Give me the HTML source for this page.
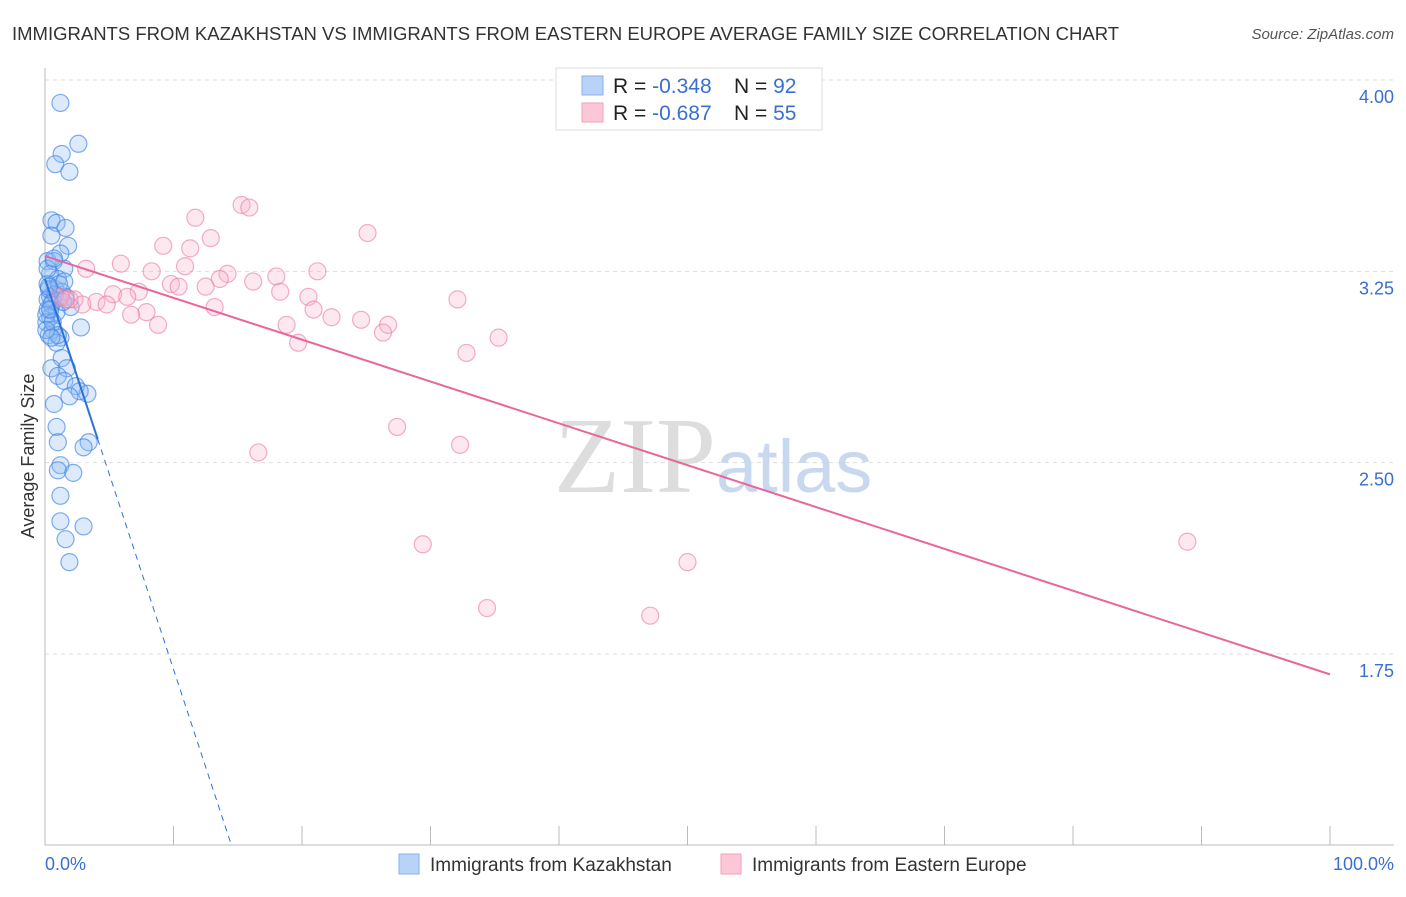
<!DOCTYPE html>
<html><head><meta charset="utf-8"><style>
body{margin:0;background:#fff;font-family:"Liberation Sans",sans-serif}
</style></head><body>
<svg width="1406" height="892" xmlns="http://www.w3.org/2000/svg" font-family="Liberation Sans, sans-serif">
<text x="12" y="40" font-size="18.5" fill="#333">IMMIGRANTS FROM KAZAKHSTAN VS IMMIGRANTS FROM EASTERN EUROPE AVERAGE FAMILY SIZE CORRELATION CHART</text>
<text x="1394" y="39" font-size="15" fill="#555" font-style="italic" text-anchor="end">Source: ZipAtlas.com</text>
<g id="grid"></g>
<text x="716" y="492" font-size="108" fill="#ddd" font-family="Liberation Serif, serif" text-anchor="end">ZIP</text>
<text x="716" y="492" font-size="74" fill="#c8d8ee">atlas</text>
<line x1="45" y1="68" x2="45" y2="845" stroke="#bbb"/>
<line x1="45" y1="845" x2="1394" y2="845" stroke="#bbb"/>
<g id="ticks"></g>
<g id="pts"></g>
<g id="lines"></g>
<text x="34" y="456" font-size="18" fill="#333" text-anchor="middle" transform="rotate(-90 34 456)">Average Family Size</text>
<text x="45" y="870" font-size="18" fill="#3a6fd0">0.0%</text>
<text x="1394" y="870" font-size="18" fill="#3a6fd0" text-anchor="end">100.0%</text>
<g>
<rect x="556" y="68" width="266" height="62" fill="#fff" stroke="#ddd"/>
<rect x="582" y="76" width="21" height="19" fill="#b8d3f7" stroke="#8ab0e8"/>
<rect x="582" y="103" width="21" height="19" fill="#fcc8d8" stroke="#f0a0b8"/>
<text x="613" y="93" font-size="21" fill="#222">R = <tspan fill="#3a6fd0">-0.348</tspan><tspan x="734">N = </tspan><tspan fill="#3a6fd0">92</tspan></text>
<text x="613" y="120" font-size="21" fill="#222">R = <tspan fill="#3a6fd0">-0.687</tspan><tspan x="734">N = </tspan><tspan fill="#3a6fd0">55</tspan></text>
</g>
<g>
<rect x="399" y="854" width="20" height="20" fill="#b8d3f7" stroke="#8ab0e8"/>
<text x="430" y="871" font-size="19" fill="#333">Immigrants from Kazakhstan</text>
<rect x="721" y="854" width="20" height="20" fill="#fcc8d8" stroke="#f0a0b8"/>
<text x="752" y="871" font-size="19" fill="#333">Immigrants from Eastern Europe</text>
</g>
</svg>
<script>
const yTicks=[4.00,3.25,2.50,1.75];
const yTickLabels=["4.00","3.25","2.50","1.75"];
const xTicks=[0,10,20,30,40,50,60,70,80,90,100];
const blueX=[1.2,2.6,1.3,0.8,1.9,0.5,0.9,1.6,0.5,1.8,1.2,0.2,0.7,1.5,0.4,1.0,0.2,0.8,1.3,0.4,1.6,0.6,2.0,0.2,0.9,0.4,0.1,2.8,0.6,0.3,1.2,0.9,1.3,0.5,1.7,1.0,1.5,2.4,3.3,2.7,1.9,0.7,0.9,1.0,3.4,3.0,1.2,1.0,2.2,1.2,1.2,3.0,1.6,1.9,0.2,0.5,0.1,0.3,0.8,1.1,1.5,0.2,0.6,1.0,0.4,0.3,0.7,1.4,0.1,0.5];
const blueY=[3.91,3.75,3.71,3.67,3.64,3.45,3.44,3.42,3.39,3.35,3.32,3.29,3.29,3.26,3.24,3.22,3.20,3.18,3.17,3.15,3.15,3.13,3.11,3.10,3.09,3.07,3.05,3.03,3.02,3.00,2.99,2.97,2.91,2.87,2.87,2.84,2.82,2.80,2.77,2.78,2.76,2.73,2.64,2.58,2.58,2.56,2.49,2.47,2.46,2.37,2.27,2.25,2.20,2.11,3.14,3.12,3.08,3.18,3.16,3.20,3.21,3.26,3.05,3.00,3.10,3.19,3.30,3.13,3.02,2.99];
const pinkX=[15.3,15.9,11.7,25.1,12.9,9.2,11.3,5.9,3.2,10.9,8.3,21.2,14.2,18.0,13.6,16.2,9.8,10.4,12.5,7.3,18.3,5.3,6.4,20.5,4.0,2.3,32.1,4.8,2.9,13.2,20.9,7.9,6.7,22.3,24.6,18.8,26.7,8.8,26.3,35.3,19.7,32.8,27.4,32.3,16.6,29.4,88.9,50.0,34.4,47.1,1.9,1.2,1.6];
const pinkY=[3.51,3.50,3.46,3.40,3.38,3.35,3.34,3.28,3.26,3.27,3.25,3.25,3.24,3.23,3.22,3.21,3.20,3.19,3.19,3.17,3.17,3.16,3.15,3.15,3.13,3.14,3.14,3.12,3.12,3.11,3.10,3.09,3.08,3.07,3.06,3.04,3.04,3.04,3.01,2.99,2.97,2.93,2.64,2.57,2.54,2.18,2.19,2.11,1.93,1.90,3.14,3.15,3.14];
const blueTrend=[3.22,-0.153];
const pinkTrend=[3.31,1.67];
const NS="http://www.w3.org/2000/svg";
const X=v=>45+v*12.85, Y=v=>80+(4-v)*255.1;
function mk(t,a,p){const e=document.createElementNS(NS,t);for(const k in a)e.setAttribute(k,a[k]);document.getElementById(p).appendChild(e);return e;}
yTicks.forEach((t,i)=>{
 const l=mk('line',{x1:45,x2:1394,y1:Y(t),y2:Y(t),stroke:'#ddd','stroke-dasharray':'4 4'},'grid');
 
 
 const tx=mk('text',{x:1394,y:Y(t)+23,'font-size':18,fill:'#3a6fd0','text-anchor':'end'},'grid');
 tx.textContent=yTickLabels[i];
 
 
});
xTicks.forEach(t=>{
 const l=mk('line',{x1:X(t),x2:X(t),y1:826,y2:845,stroke:'#bbb'},'ticks');
 
 
});
blueX.forEach((x,i)=>{
 const c=mk('circle',{cx:X(x),cy:Y(blueY[i]),r:8.5,fill:'rgba(140,185,245,0.3)',stroke:'rgba(60,130,230,0.65)','stroke-width':1.2},'pts');
 
 
});
pinkX.forEach((x,i)=>{
 const c=mk('circle',{cx:X(x),cy:Y(pinkY[i]),r:8.5,fill:'rgba(250,180,205,0.3)',stroke:'rgba(235,120,160,0.6)','stroke-width':1.2},'pts');
 
 
});
const bEnd=(1-blueTrend[0])/blueTrend[1];
let l=mk('line',{x1:X(0),y1:Y(blueTrend[0]),x2:X(4.1),y2:Y(blueTrend[0]+blueTrend[1]*4.1),stroke:'#2a72d8','stroke-width':2},'lines');


l=mk('line',{x1:X(4.1),y1:Y(blueTrend[0]+blueTrend[1]*4.1),x2:X(bEnd),y2:Y(1),stroke:'#2a72d8','stroke-width':1,'stroke-dasharray':'6 5'},'lines');


l=mk('line',{x1:X(0),y1:Y(pinkTrend[0]),x2:X(100),y2:Y(pinkTrend[1]),stroke:'#e8679a','stroke-width':2},'lines');


</script>
</body></html>
